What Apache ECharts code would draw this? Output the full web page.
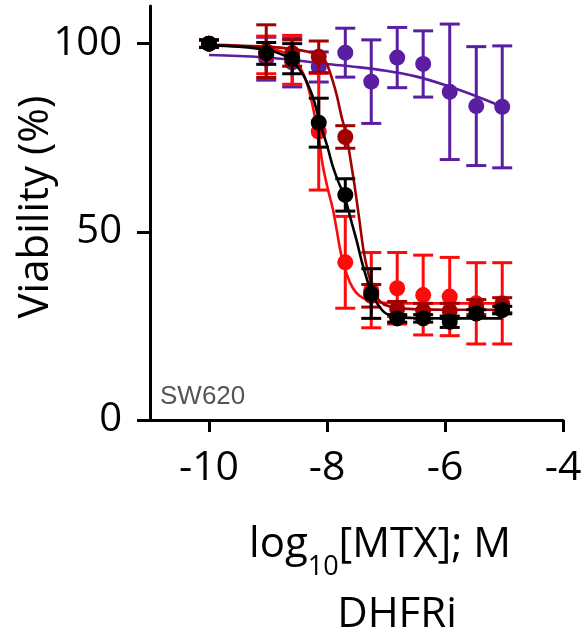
<!DOCTYPE html>
<html>
<head>
<meta charset="utf-8">
<script src="https://cdn.jsdelivr.net/npm/echarts@6/dist/echarts.min.js"></script>
<style>
html,body{margin:0;padding:0;background:#fff;}
#chart{width:585px;height:634px;}
</style>
</head>
<body>
<div id="chart"></div>
<script>
// log10 doses (M)
const doses = [-10, -9.03, -8.59, -8.14, -7.69, -7.25, -6.81, -6.37, -5.92, -5.47, -5.03];

// mean viability (%) and error (±)
const blackVals    = [100, 97.4, 96.0, 79.0, 59.8, 33.6, 27.0, 27.0, 26.1, 28.3, 29.2];
const blackErr     = [1.0, 2.9, 4.0, 6.5, 4.3, 6.6, 1.0, 1.0, 1.5, 1.0, 1.0];
const redVals      = [100, 97.0, 95.7, 76.6, 41.9, 34.5, 35.0, 33.2, 32.8, 31.0, 31.0];
const redErr       = [1.0, 5.0, 6.5, 15.5, 12.2, 10.0, 9.5, 10.6, 10.4, 10.8, 10.8];
const darkRedVals  = [100, 98.0, 97.5, 96.5, 75.2, 33.0, 29.5, 29.0, 29.0, 30.0, 30.5];
const darkRedErr   = [1.0, 7.0, 3.5, 4.2, 3.0, 3.0, 2.0, 2.0, 2.0, 2.0, 2.0];
const purpleVals   = [100, 96.0, 95.0, 93.8, 97.6, 89.9, 96.3, 94.6, 87.2, 83.4, 83.2];
const purpleErr    = [1.0, 5.7, 6.5, 4.0, 6.5, 11.1, 8.0, 8.8, 18.0, 15.8, 16.2];

// fitted curves: [log10 dose, viability]
const blackCurve = [[-10,99.6],[-9.5,99.2],[-9,98.3],[-8.75,97],[-8.6,95.5],[-8.45,92.8],[-8.37,90.7],[-8.23,85.4],[-8.13,79.5],[-8,73],[-7.9,67.3],[-7.8,63],[-7.7,59.3],[-7.6,53.5],[-7.5,47.8],[-7.4,41.5],[-7.28,35.4],[-7.15,31],[-7,28.3],[-6.8,27.4],[-6.5,27.1],[-6,27],[-5.5,27],[-5.03,27]];
const redCurve = [[-10,99.5],[-9.5,99.3],[-9,98.8],[-8.75,97.8],[-8.6,96.5],[-8.45,93.5],[-8.35,90],[-8.25,84],[-8.15,76],[-8.07,67.5],[-7.98,61],[-7.9,56],[-7.83,50],[-7.76,44],[-7.66,38.5],[-7.56,35],[-7.45,33],[-7.3,31.8],[-7.1,31.2],[-6.8,31],[-6,31],[-5.03,31]];
const darkRedCurve = [[-10,99.7],[-9.5,99.5],[-9,99.2],[-8.6,98.6],[-8.3,97.8],[-8.1,96.8],[-8,94.5],[-7.9,90],[-7.83,86],[-7.76,81],[-7.67,75.5],[-7.6,69],[-7.53,62],[-7.45,53],[-7.38,45],[-7.3,39],[-7.2,34],[-7.1,31.5],[-6.95,30.2],[-6.7,29.6],[-6,29.3],[-5.03,29.3]];
const purpleCurve = [[-10,97],[-9.5,96.7],[-9,96.3],[-8.5,95.5],[-8,94.6],[-7.5,93.8],[-7,92.8],[-6.5,91.3],[-6,89],[-5.5,86.2],[-5.03,83.2]];

const xTicks = [-10, -8, -6, -4];
const yTicks = [0, 50, 100];

const COLORS = {black:'#000000', red:'#ff0a0a', darkRed:'#a00000', purple:'#5a1ea0'};

function pts(vals){ return doses.map((d,i)=>[d, vals[i]]); }
function errs(vals, e){ return doses.map((d,i)=>[d, vals[i]-e[i], vals[i]+e[i]]); }

function errSeries(data, color, z){
  return {
    type:'custom', z:z, silent:true,
    data:data,
    encode:{x:0, y:[1,2]},
    renderItem:function(params, api){
      const x = api.value(0);
      const lo = api.coord([x, api.value(1)]);
      const hi = api.coord([x, api.value(2)]);
      const hw = 10;
      const st = {stroke:color, lineWidth:3};
      return {type:'group', children:[
        {type:'line', shape:{x1:lo[0], y1:lo[1], x2:hi[0], y2:hi[1]}, style:st},
        {type:'line', shape:{x1:lo[0]-hw, y1:lo[1], x2:lo[0]+hw, y2:lo[1]}, style:st},
        {type:'line', shape:{x1:hi[0]-hw, y1:hi[1], x2:hi[0]+hw, y2:hi[1]}, style:st}
      ]};
    }
  };
}
function curveSeries(data, color, z){
  return {type:'line', data:data, smooth:0.3, showSymbol:false, z:z, silent:true,
    lineStyle:{color:color, width:2.6}};
}
function pointSeries(data, color, z){
  return {type:'scatter', data:data, symbol:'circle', symbolSize:16, z:z, silent:true,
    itemStyle:{color:color, opacity:1}};
}

const groups = [
  [purpleCurve, pts(purpleVals), errs(purpleVals, purpleErr), COLORS.purple],
  [redCurve, pts(redVals), errs(redVals, redErr), COLORS.red],
  [darkRedCurve, pts(darkRedVals), errs(darkRedVals, darkRedErr), COLORS.darkRed],
  [blackCurve, pts(blackVals), errs(blackVals, blackErr), COLORS.black]
];
const series = [];
groups.forEach((g, i)=>{
  const base = 2 + i*3;
  series.push(curveSeries(g[0], g[3], base));
  series.push(errSeries(g[2], g[3], base+1));
  series.push(pointSeries(g[1], g[3], base+2));
});

const chart = echarts.init(document.getElementById('chart'), null, {renderer:'canvas'});
chart.setOption({
  animation:false,
  backgroundColor:'#ffffff',
  grid:{left:150, right:22, top:6, bottom:214, containLabel:false},
  xAxis:{
    type:'value', min:-11, max:-4,
    axisLine:{lineStyle:{color:'#000', width:3}},
    axisTick:{customValues:xTicks, length:12, lineStyle:{color:'#000', width:3}},
    axisLabel:{customValues:xTicks, fontSize:41, fontFamily:'Open Sans', color:'#000', margin:28},
    splitLine:{show:false}
  },
  yAxis:{
    type:'value', min:0, max:110,
    axisLine:{show:true, lineStyle:{color:'#000', width:3}},
    axisTick:{show:true, customValues:yTicks, length:13, lineStyle:{color:'#000', width:3}},
    axisLabel:{customValues:yTicks, fontSize:40, fontFamily:'Open Sans', color:'#000', margin:28},
    splitLine:{show:false}
  },
  graphic:[
    {type:'text', x:36, y:207, rotation:Math.PI/2,
      style:{text:'Viability (%)', font:'42px "Open Sans"', fill:'#000', textAlign:'center', textVerticalAlign:'middle'}},
    {type:'text', x:160, y:397,
      style:{text:'SW620', font:'26px "Liberation Sans"', fill:'#555', textAlign:'left', textVerticalAlign:'middle'}},
    {type:'text', x:380, y:545,
      style:{text:'{m|log}{s|10}{m|[MTX]; M}', textAlign:'center', textVerticalAlign:'middle', fill:'#000',
        rich:{
          m:{fontSize:42, fontFamily:'Open Sans', lineHeight:46, fill:'#000'},
          s:{fontSize:27, fontFamily:'Open Sans', lineHeight:28, padding:[44,0,0,0], fill:'#000'}
        }}},
    {type:'text', x:397, y:615,
      style:{text:'DHFRi', font:'42px "Open Sans"', fill:'#000', textAlign:'center', textVerticalAlign:'middle'}}
  ],
  series:series
});
</script>
</body>
</html>
